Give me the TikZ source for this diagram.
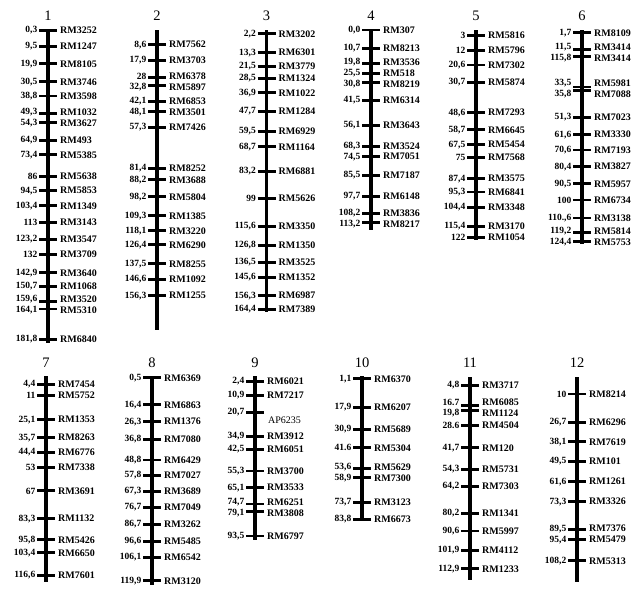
\documentclass[tikz,border=0pt]{standalone}
\usepackage{fontspec}
\setmainfont{Liberation Serif}
\usepackage{tikz}

% one linkage group: #1 name, #2 x, #3 y of 0 cM, #4/#5 bar ends, #6 markers cM/shift/position/name
\newcommand{\chromo}[6]{%
  \begin{scope}[shift={(#2,#3)}]
    \node[chrtitle] (t#1) at (0,-14) {#1};
    \coordinate (top#1) at (0,#4);
    \coordinate (bot#1) at (0,#5);
    \draw[bar] (top#1) -- (bot#1);
    \foreach \cm/\dy/\num/\nm [count=\i] in {#6} {
      \coordinate (k#1-\i) at (0,{1.7*\cm});
      \draw[mtick] ([xshift=-9pt]k#1-\i) -- ([xshift=9pt]k#1-\i);
      \node[num] (n#1-\i) at (-10.5,{1.7*\cm+(\dy)}) {\num};
      \node[mname] (r#1-\i) at (12,{1.7*\cm+(\dy)}) {\nm};
    }
  \end{scope}}

\begin{document}
\begin{tikzpicture}[x=1pt, y=-1pt,
    bar/.style={line width=3.3pt},
    mtick/.style={line width=2.9pt},
    chrtitle/.style={font=\fontsize{14.5}{15}\selectfont},
    num/.style={anchor=east, inner sep=0pt, font=\fontsize{9.5}{10}\selectfont\bfseries},
    mname/.style={anchor=west, inner sep=0pt, font=\fontsize{10}{10}\selectfont\bfseries}]
  \useasboundingbox (0,0) rectangle (632,589);
  % top row
  \chromo{1}{48}{30}{-1}{313}{0.3/0/{0,3}/RM3252, 9.5/0/{9,5}/RM1247,
    19.9/0/{19,9}/RM8105, 30.5/0/{30,5}/RM3746, 38.8/0/{38,8}/RM3598,
    49.3/-1.3/{49,3}/RM1032, 54.3/1.2/{54,3}/RM3627, 64.9/0/{64,9}/RM493,
    73.4/0/{73,4}/RM5385, 86/0/86/RM5638, 94.5/0/{94,5}/RM5853,
    103.4/0/{103,4}/RM1349, 113/0/113/RM3143, 123.2/0/{123,2}/RM3547,
    132/0/132/RM3709, 142.9/0/{142,9}/RM3640, 150.7/0/{150,7}/RM1068,
    159.6/-1.8/{159,6}/RM3520, 164.1/1.5/{164,1}/RM5310, 181.8/0/{181,8}/RM6840}
  \chromo{2}{157}{30}{0}{300}{8.6/0/{8,6}/RM7562, 17.9/0/{17,9}/RM3703,
    28/-1.4/28/RM6378, 32.8/1.4/{32,8}/RM5897, 42.1/-0.5/{42,1}/RM6853,
    48.1/0.5/{48,1}/RM3501, 57.3/0/{57,3}/RM7426, 81.4/0/{81,4}/RM8252,
    88.2/0/{88,2}/RM3688, 98.2/0/{98,2}/RM5804, 109.3/0/{109,3}/RM1385,
    118.1/0/{118,1}/RM3220, 126.4/0/{126,4}/RM6290, 137.5/0/{137,5}/RM8255,
    146.6/0/{146,6}/RM1092, 156.3/0/{156,3}/RM1255}
  \chromo{3}{266.5}{30}{0}{282}{2.2/0/{2,2}/RM3202, 13.3/0/{13,3}/RM6301,
    21.5/0/{21,5}/RM3779, 28.5/0/{28,5}/RM1324, 36.9/0/{36,9}/RM1022,
    47.7/0/{47,7}/RM1284, 59.5/0/{59,5}/RM6929, 68.7/0/{68,7}/RM1164,
    83.2/0/{83,2}/RM6881, 99/0/99/RM5626, 115.6/0/{115,6}/RM3350,
    126.8/0/{126,8}/RM1350, 136.5/0/{136,5}/RM3525, 145.6/0/{145,6}/RM1352,
    156.3/0/{156,3}/RM6987, 164.4/0/{164,4}/RM7389}
  \chromo{4}{371}{30}{0}{200}{0/0/{0,0}/RM307, 10.7/0/{10,7}/RM8213,
    19.8/-1.5/{19,8}/RM3536, 25.5/-0.2/{25,5}/RM518, 30.8/1.8/{30,8}/RM8219,
    41.5/0/{41,5}/RM6314, 56.1/0/{56,1}/RM3643, 68.3/0/{68,3}/RM3524,
    74.5/0/{74,5}/RM7051, 85.5/0/{85,5}/RM7187, 97.7/0/{97,7}/RM6148,
    108.2/-1.2/{108,2}/RM3836, 113.2/1.3/{113,2}/RM8217}
  \chromo{5}{476}{30}{0}{210}{3/0/3/RM5816, 12/0/12/RM5796,
    20.6/0/{20,6}/RM7302, 30.7/0/{30,7}/RM5874, 48.6/0/{48,6}/RM7293,
    58.7/0/{58,7}/RM6645, 67.5/0/{67,5}/RM5454, 75/0/75/RM7568,
    87.4/0/{87,4}/RM3575, 95.3/0/{95,3}/RM6841, 104.4/0/{104,4}/RM3348,
    115.4/0/{115,4}/RM3170, 122/0/122/RM1054}
  \chromo{6}{582}{30}{0}{214}{1.7/0/{1,7}/RM8109, 11.5/-2/{11,5}/RM3414,
    15.8/1.7/{115,8}/RM3414, 33.5/-3.5/{33,5}/RM5981, 35.8/3.6/{35,8}/RM7088,
    51.3/0/{51,3}/RM7023, 61.6/0/{61,6}/RM3330, 70.6/0/{70,6}/RM7193,
    80.4/0/{80,4}/RM3827, 90.5/0/{90,5}/RM5957, 100/0/100/RM6734,
    110.6/0/{110.,6}/RM3138, 119.2/-1.1/{119,2}/RM5814, 124.4/1/{124,4}/RM5753}
  % bottom row
  \chromo{7}{46}{377}{-1}{205}{4.4/0/{4,4}/RM7454, 11/0/11/RM5752,
    25.1/0/{25,1}/RM1353, 35.7/0/{35,7}/RM8263, 44.4/0/{44,4}/RM6776,
    53/0/53/RM7338, 67/0/67/RM3691, 83.3/0/{83,3}/RM1132,
    95.8/0/{95,8}/RM5426, 103.4/0/{103,4}/RM6650, 116.6/0/{116,6}/RM7601}
  \chromo{8}{152}{377}{-1}{208}{0.5/0/{0,5}/RM6369, 16.4/0/{16,4}/RM6863,
    26.3/0/{26,3}/RM1376, 36.8/0/{36,8}/RM7080, 48.8/0/{48,8}/RM6429,
    57.8/0/{57,8}/RM7027, 67.3/0/{67,3}/RM3689, 76.7/0/{76,7}/RM7049,
    86.7/0/{86,7}/RM3262, 96.6/0/{96,6}/RM5485, 106.1/0/{106,1}/RM6542,
    119.9/0/{119,9}/RM3120}
  \chromo{9}{255}{377}{-1}{163}{2.4/0/{2,4}/RM6021, 10.9/0/{10,9}/RM7217,
    20.7/0/{20,7}/{}, 34.9/0/{34,9}/RM3912, 42.5/0/{42,5}/RM6051,
    55.3/0/{55,3}/RM3700, 65.1/0/{65,1}/RM3533, 74.7/-1.7/{74,7}/RM6251,
    79.1/1.8/{79,1}/RM3808, 93.5/0/{93,5}/RM6797}
  \node[mname, font=\fontsize{10}{10}\selectfont] (ap9) at ([xshift=13pt, yshift=-8pt]k9-3) {AP6235};
  \chromo{10}{362}{377}{-1}{144}{1.1/0/{1,1}/RM6370, 17.9/0/{17,9}/RM6207,
    30.9/0/{30,9}/RM5689, 41.6/0/41.6/RM5304, 53.6/-1/{53,6}/RM5629,
    58.9/1.2/{58,9}/RM7300, 73.7/0/{73,7}/RM3123, 83.8/0/{83,8}/RM6673}
  \chromo{11}{470}{377}{0}{203}{4.8/0/{4,8}/RM3717, 16.7/-2.9/16.7/RM6085,
    19.8/2.8/{19,8}/RM1124, 28.6/0/28.6/RM4504, 41.7/0/{41,7}/RM120,
    54.3/0/{54,3}/RM5731, 64.2/0/{64,2}/RM7303, 80.2/0/{80,2}/RM1341,
    90.6/0/{90,6}/RM5997, 101.9/0/{101,9}/RM4112, 112.9/0/{112,9}/RM1233}
  \chromo{12}{577}{377}{0}{205}{10/0/10/RM8214, 26.7/0/{26,7}/RM6296,
    38.1/0/{38,1}/RM7619, 49.5/0/{49,5}/RM101, 61.6/0/{61,6}/RM1261,
    73.3/0/{73,3}/RM3326, 89.5/-0.5/{89,5}/RM7376, 95.4/0.5/{95,4}/RM5479,
    108.2/0/{108,2}/RM5313}
\end{tikzpicture}
\end{document}
